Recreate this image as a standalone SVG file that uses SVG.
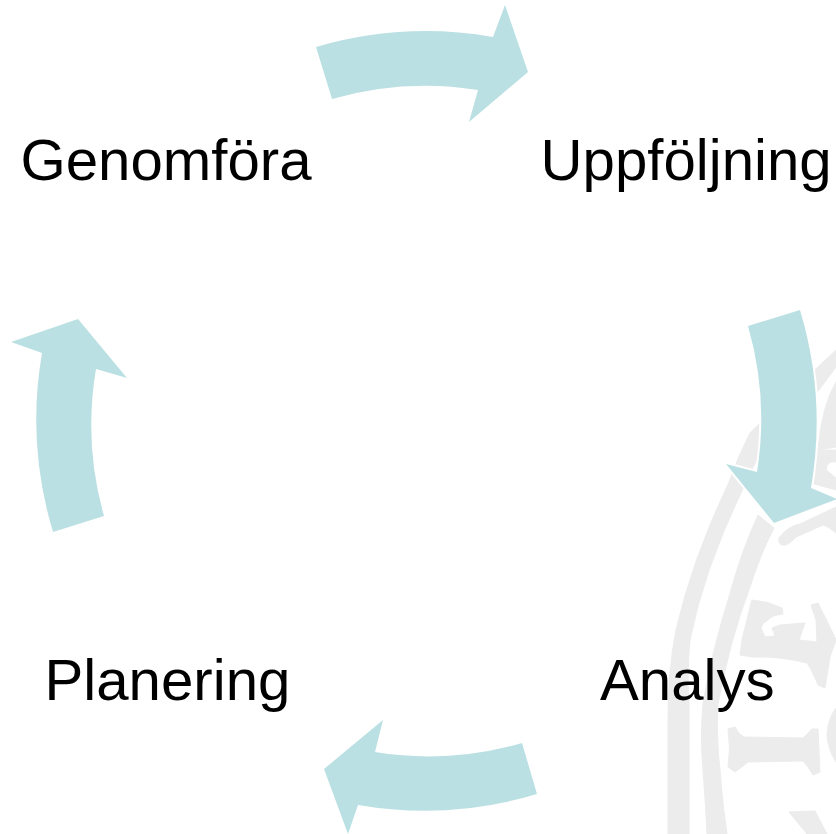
<svg xmlns="http://www.w3.org/2000/svg" width="836" height="834" viewBox="0 0 836 834">
  <style>
    .wm { fill: #ececec; stroke: #ececec; stroke-width: 1; stroke-linejoin: round; }
    .arrow { fill: #bbe0e3; stroke: #ffffff; stroke-width: 4; stroke-linejoin: miter; paint-order: stroke; }
    .label { font-family: "Liberation Sans", Arial, sans-serif; font-size: 58.2px; fill: #000000; }
  </style>
  <rect width="836" height="834" fill="#ffffff"/>
  <g id="watermark">
    <path class="wm" d="M836,350 Q790,392 750,433 Q738,456 729,482 Q692,560 676,630 Q668,670 668,720 L668,834 L689,834 L689,704 Q687,670 690,640 Q704,570 741,493 Q752,468 762,450 Q790,418 819,390 L836,367 Z"/>
    <path class="wm" d="M836,382 Q822,405 818,450 L836,447 Z"/>
    <path class="wm" d="M816,450 L836,450 L836,462 Q827,460 826,470 L836,478 L836,490 L800,480 Z"/>
    <path class="wm" d="M758,515 Q742,550 731,590 Q712,650 703,704 Q700,740 703,770 Q706,810 707,834 L727,834 Q722,800 720,770 Q716,735 718,704 Q730,640 749,590 Q760,555 774,528 Z"/>
    <path class="wm" d="M779,538 Q788,526 800,524 L836,507 L836,533 Q828,526 823,525 L796,537 Q788,546 783,545 Q778,545 779,538 Z"/>
    <path class="wm" d="M752,600 Q768,601 782,608 L783,614 Q772,615 768,620 Q762,623 761,628 L765,637 775,636 772,628 780,625 805,623 799,640 817,642 816,620 811,605 818,603 830,627 836,640 830,657 825,688 818,685 Q812,670 807,663 Q780,656 753,657 L740,655 742,640 750,607 Z"/>
    <path class="wm" d="M728,729 L735,727 Q738,734 744,737 L803,738 Q808,733 812,729 L818,729 L820,772 L813,775 Q808,766 803,761 L748,762 Q742,767 735,772 L728,767 Q731,748 728,729 Z"/>
    <path class="wm" d="M836,708 Q828,718 827,735 Q828,750 836,762 Z"/>
    <path class="wm" d="M789,812 L815,811 L827,834 L807,834 Z"/>
  </g>
  <g id="connectors">
    <path id="arrow-top" class="arrow" d="M316,47 A390,390 0 0 1 493,37 L505,5 L528,72 L469,122 L478,90 A335,335 0 0 0 332,99 Z"/>
    <path id="arrow-right" class="arrow" d="M800,310 A390,390 0 0 1 811,488 L837,499 L774,523 L726,464 L757,472 A335,335 0 0 0 748,326 Z"/>
    <path id="arrow-bottom" class="arrow" d="M537,794 A390,390 0 0 1 358,805 L348,834 L324,769 L383,720 L375,752 A335,335 0 0 0 522,743 Z"/>
    <path id="arrow-left" class="arrow" d="M53,532 A390,390 0 0 1 42,353 L11,342 L78,319 L127,378 L96,369 A335,335 0 0 0 104,516 Z"/>
  </g>
  <g id="node-genomfora"><text class="label" x="20.5" y="180">Genomföra</text></g>
  <g id="node-uppfoljning"><text class="label" x="540.5" y="180">Uppföljning</text></g>
  <g id="node-planering"><text class="label" x="44.5" y="700">Planering</text></g>
  <g id="node-analys"><text class="label" x="600" y="700">Analys</text></g>
</svg>
